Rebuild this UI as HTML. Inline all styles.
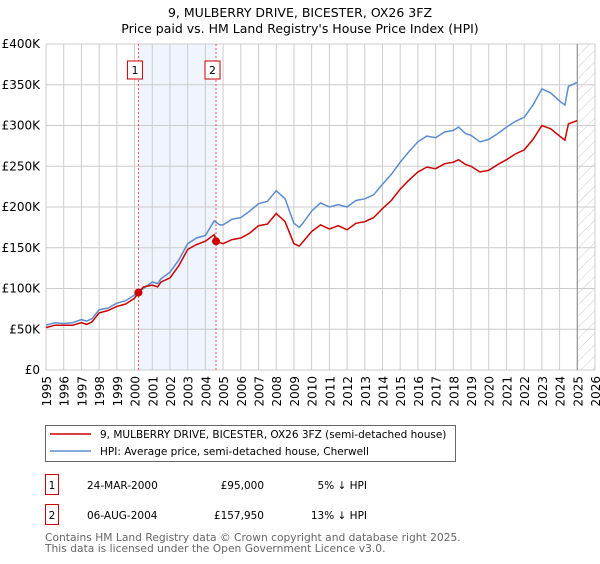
<!DOCTYPE html>
<html><head><meta charset="utf-8"><style>
body{margin:0;background:#fff;width:600px;height:560px;overflow:hidden;font-family:"DejaVu Sans","Liberation Sans",sans-serif;}
svg text{font-family:"DejaVu Sans","Liberation Sans",sans-serif;}
</style></head><body>
<svg id="c" width="600" height="560" xmlns="http://www.w3.org/2000/svg"></svg>
<script>
const hpiYears=[1995,1995.5,1996,1996.5,1997,1997.3,1997.6,1998,1998.5,1999,1999.5,2000,2000.5,2001,2001.3,2001.5,2002,2002.5,2003,2003.5,2004,2004.5,2004.8,2005,2005.5,2006,2006.5,2007,2007.5,2008,2008.5,2009,2009.3,2009.5,2010,2010.5,2011,2011.5,2012,2012.5,2013,2013.5,2014,2014.5,2015,2015.5,2016,2016.5,2017,2017.5,2018,2018.3,2018.7,2019,2019.5,2020,2020.5,2021,2021.5,2022,2022.5,2023,2023.5,2024,2024.3,2024.5,2025];
const hpiValues=[55,58,57,58,62,60,63,74,76,82,85,92,100,108,106,112,120,135,155,162,165,183,178,178,185,187,195,204,207,220,210,180,175,180,195,205,200,203,200,208,210,215,228,240,255,268,280,287,285,292,294,298,290,288,280,283,290,298,305,310,325,345,340,330,325,348,353];
const priceYears=[1995,1995.5,1996,1996.5,1997,1997.3,1997.6,1998,1998.5,1999,1999.5,2000,2000.22,2000.5,2001,2001.3,2001.5,2002,2002.5,2003,2003.5,2004,2004.5,2004.6,2005,2005.5,2006,2006.5,2007,2007.5,2008,2008.5,2009,2009.3,2009.5,2010,2010.5,2011,2011.5,2012,2012.5,2013,2013.5,2014,2014.5,2015,2015.5,2016,2016.5,2017,2017.5,2018,2018.3,2018.7,2019,2019.5,2020,2020.5,2021,2021.5,2022,2022.5,2023,2023.5,2024,2024.3,2024.5,2025];
const priceValues=[52,55,55,55,58,56,59,70,73,78,81,88,95,102,104,102,108,113,128,148,154,158,166,158,155,160,162,168,177,179,192,182,155,152,157,170,178,173,177,172,180,182,187,198,208,222,233,243,249,247,253,255,258,252,250,243,245,252,258,265,270,283,300,296,287,282,302,306];
const saleYears=[2000.22,2004.6];
const saleValues=[95,157.95];
const saleLabels=["1","2"];
const yTicks=[0,50,100,150,200,250,300,350,400];
const xTicks=[1995,1996,1997,1998,1999,2000,2001,2002,2003,2004,2005,2006,2007,2008,2009,2010,2011,2012,2013,2014,2015,2016,2017,2018,2019,2020,2021,2022,2023,2024,2025,2026];

const svg=document.getElementById('c');
const NS='http://www.w3.org/2000/svg';
const L=46,R=595,T=44,B=370;
const x=v=>L+(v-1995)/(2026-1995)*(R-L);
const y=v=>B-v/400*(B-T);
function mk(tag,attrs,parent){const e=document.createElementNS(NS,tag);for(const k in attrs)e.setAttribute(k,attrs[k]);(parent||svg).appendChild(e);return e;}

let t=mk('text',{x:300,y:17,'text-anchor':'middle','font-size':12.5,fill:'#000'});t.textContent='9, MULBERRY DRIVE, BICESTER, OX26 3FZ';


t=mk('text',{x:300,y:33,'text-anchor':'middle','font-size':12.5,fill:'#000'});t.textContent="Price paid vs. HM Land Registry's House Price Index (HPI)";



let r=mk('rect',{x:x(saleYears[0]),y:T,width:x(saleYears[1])-x(saleYears[0]),height:B-T,fill:'#f0f4fc'});


const defs=mk('defs',{});
const pat=mk('pattern',{id:'h',width:8,height:8,patternUnits:'userSpaceOnUse',patternTransform:'rotate(45)'},defs);
mk('line',{x1:0,y1:0,x2:0,y2:8,stroke:'#ccc','stroke-width':1},pat);
r=mk('rect',{x:x(2025),y:T,width:R-x(2025),height:B-T,fill:'url(#h)'});



yTicks.forEach(v=>{
 const l=mk('line',{x1:L,x2:R,y1:y(v),y2:y(v),stroke:'#ccc','stroke-width':1});
 
 
 const tx=mk('text',{x:L-6,y:y(v)+4,'text-anchor':'end','font-size':12,fill:'#000'});
 tx.textContent=v===0?'£0':'£'+v+'K';
 
 
});
xTicks.forEach(v=>{
 const l=mk('line',{x1:x(v),x2:x(v),y1:T,y2:B,stroke:'#ccc','stroke-width':1});
 
 
 const tx=mk('text',{x:x(v)+5,y:B+6,'text-anchor':'end','font-size':12,fill:'#000',transform:`rotate(-90 ${x(v)+5} ${B+6})`});
 tx.textContent=v;
 
 
});
r=mk('rect',{x:L,y:T,width:R-L,height:B-T,fill:'none',stroke:'#ccc'});


let l=mk('line',{x1:x(2025),x2:x(2025),y1:T,y2:B,stroke:'#888','stroke-width':1});



saleYears.forEach((v,i)=>{
 const ln=mk('line',{x1:x(v),x2:x(v),y1:T,y2:B,stroke:'#e55','stroke-width':1,'stroke-dasharray':'2,2'});
 
 
 const g=mk('g',{});
 
 
 mk('rect',{x:x(v)-11,y:61,width:15,height:18,fill:'#fff',stroke:'#c00'},g);
 const tx=mk('text',{x:x(v)-3.5,y:74,'text-anchor':'middle','font-size':11,fill:'#000'},g);tx.textContent=saleLabels[i];
});

function path(xs,vs,color,name){
 const d=xs.map((v,i)=>(i?'L':'M')+x(v).toFixed(1)+','+y(vs[i]).toFixed(1)).join('');
 const p=mk('path',{d,fill:'none',stroke:color,'stroke-width':1.5});
 
 
}
path(hpiYears,hpiValues,'#5b8bd0','hpi-line');
path(priceYears,priceValues,'#cc0000','price-line');
saleYears.forEach((v,i)=>{
 const c=mk('circle',{cx:x(v),cy:y(saleValues[i]),r:4,fill:'#cc0000'});
 
 
});

const lg=mk('g',{});


mk('rect',{x:45.5,y:425.5,width:410,height:36,fill:'#fff',stroke:'#666'},lg);
mk('line',{x1:50,x2:91,y1:434,y2:434,stroke:'#cc0000','stroke-width':1.5},lg);
mk('line',{x1:50,x2:91,y1:451,y2:451,stroke:'#5b8bd0','stroke-width':1.5},lg);
t=mk('text',{x:100,y:438,'font-size':10.5,fill:'#000'},lg);t.textContent='9, MULBERRY DRIVE, BICESTER, OX26 3FZ (semi-detached house)';


t=mk('text',{x:100,y:455,'font-size':10.5,fill:'#000'},lg);t.textContent='HPI: Average price, semi-detached house, Cherwell';



const rows=[["1","24-MAR-2000","£95,000","5% ↓ HPI"],["2","06-AUG-2004","£157,950","13% ↓ HPI"]];
rows.forEach((rw,i)=>{
 const yy=483+i*30;
 const g=mk('g',{});
 
 
 mk('rect',{x:45.5,y:yy-8.5,width:13,height:20,fill:'#fff',stroke:'#c00'},g);
 let a=mk('text',{x:52,y:yy+6,'text-anchor':'middle','font-size':10.5},g);a.textContent=rw[0];
 a=mk('text',{x:87,y:yy+6,'font-size':10.5},g);a.textContent=rw[1];
 a=mk('text',{x:264,y:yy+6,'text-anchor':'end','font-size':10.5},g);a.textContent=rw[2];
 a=mk('text',{x:367,y:yy+6,'text-anchor':'end','font-size':10.5},g);a.textContent=rw[3];
});
t=mk('text',{x:45,y:541,'font-size':10.7,fill:'#666'});t.textContent='Contains HM Land Registry data © Crown copyright and database right 2025.';


t=mk('text',{x:45,y:552,'font-size':10.7,fill:'#666'});t.textContent='This data is licensed under the Open Government Licence v3.0.';


</script>
</body></html>
